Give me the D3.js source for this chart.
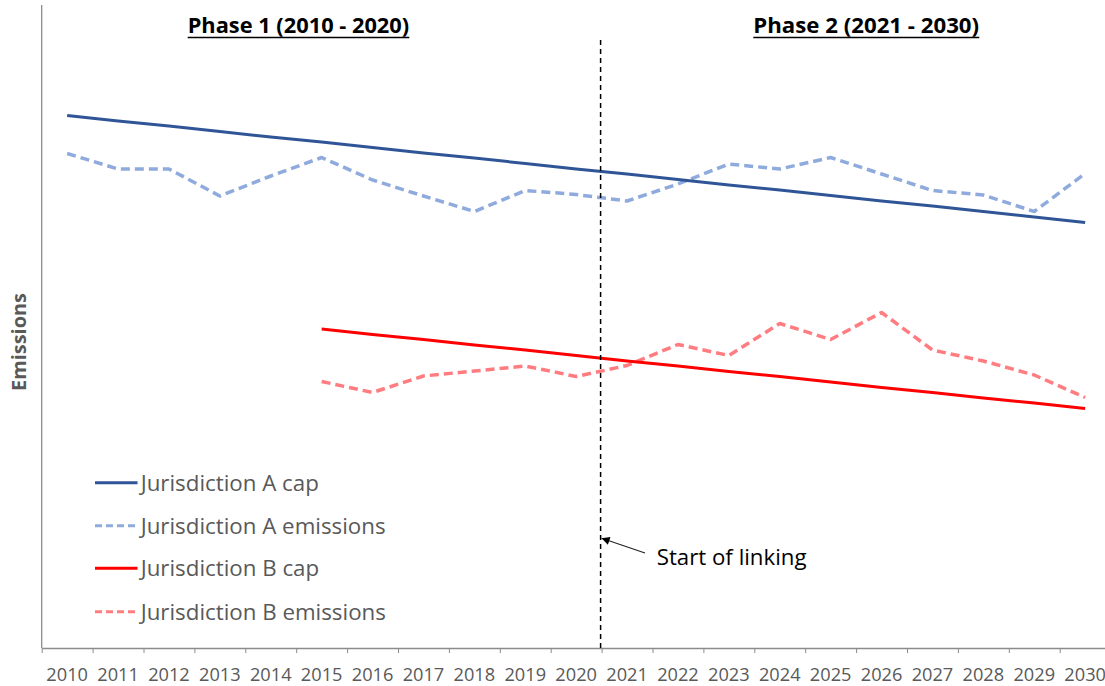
<!DOCTYPE html>
<html>
<head>
<meta charset="utf-8">
<script src="https://cdn.jsdelivr.net/npm/d3@7"></script>
<style>
  html, body { margin: 0; padding: 0; background: #fff; }
  svg { display: block; }
  text { font-family: "Open Sans", "Noto Sans", sans-serif; }
</style>
</head>
<body>
<svg id="chart" width="1105" height="686"></svg>
<script>
// ---------- data ----------
const years = ["2010","2011","2012","2013","2014","2015","2016","2017","2018","2019","2020",
               "2021","2022","2023","2024","2025","2026","2027","2028","2029","2030"];
const capAYears = years;
const capA = [106.5,105.4,104.4,103.3,102.2,101.2,100.1,99.0,98.0,96.9,95.8,
              94.8,93.7,92.6,91.6,90.5,89.4,88.4,87.3,86.2,85.1];
const emisAYears = years;
const emisA = [98.9,95.8,95.8,90.4,94.4,98.1,93.6,90.4,87.3,91.5,90.7,
               89.4,92.8,96.8,95.8,98.1,94.8,91.5,90.6,87.3,94.9];
const capBYears = years.slice(5);
const capB = [63.8,62.7,61.7,60.6,59.6,58.5,57.4,56.4,55.3,54.3,53.2,52.1,51.1,50.0,49.0,47.9];
const emisBYears = years.slice(5);
const emisB = [53.3,51.1,54.4,55.4,56.4,54.3,56.5,60.7,58.5,64.9,61.7,67.1,59.6,57.4,54.6,50.1];
const seriesNames = ["Jurisdiction A cap","Jurisdiction A emissions","Jurisdiction B cap","Jurisdiction B emissions"];
const phaseLabels = ["Phase 1 (2010 - 2020)","Phase 2 (2021 - 2030)"];
const linkYear = ["2020","2021"];
const linkLabel = "Start of linking";
const yTitle = "Emissions";

// ---------- layout ----------
const svg = d3.select("#chart");
const plotLeft = 41.7, plotRight = 1110.6, plotTop = 5, plotBottom = 648;
const x = d3.scaleBand().domain(years).range([plotLeft, plotRight]).padding(0);
const y = d3.scaleLinear().domain([0, 128]).range([plotBottom, plotBottom - 640]);
const cx = d => x(d) + x.bandwidth() / 2;
const boundary = d3.scaleLinear().domain([0, years.length]).range([plotLeft, plotRight]);

const textGray = "#595959";
const axisGray = "#8c8c8c";

function fitWidth(sel, target) {
  const w = sel.node().getComputedTextLength();
  const fs = parseFloat(sel.attr("font-size"));
  sel.attr("font-size", fs * target / w);
}

// axes
const gx = svg.append("g").attr("transform", `translate(0,${plotBottom})`);
gx.call(d3.axisBottom(boundary).tickValues(d3.range(0, years.length + 1)).tickFormat("").tickSize(5).tickSizeOuter(0));
gx.select(".domain").attr("stroke", axisGray).attr("stroke-width", 1.3);
gx.selectAll(".tick line").attr("stroke", axisGray).attr("stroke-width", 1);

const gl = svg.append("g").attr("transform", `translate(0,${plotBottom})`);
gl.call(d3.axisBottom(x).tickSize(0).tickPadding(0));
gl.select(".domain").remove();
gl.selectAll(".tick text")
  .attr("y", 33.3).attr("dy", 0)
  .attr("fill", textGray).attr("font-size", 18.2)
  .style("font-family", '"Open Sans", sans-serif');

const gy = svg.append("g").attr("transform", `translate(${plotLeft},0)`);
gy.append("line").attr("x1", 0).attr("x2", 0).attr("y1", plotTop).attr("y2", plotBottom)
  .attr("stroke", axisGray).attr("stroke-width", 1.3);

// y title
const yt = svg.append("text").text(yTitle)
  .attr("transform", "translate(25.5,342) rotate(-90)")
  .attr("text-anchor", "middle").attr("font-weight", "bold")
  .attr("fill", textGray).attr("font-size", 18);
fitWidth(yt, 98);

// lines
const line = d3.line().x(d => cx(d[0])).y(d => y(d[1]));
const styles = [
  {yrs: capAYears, vals: capA, color: "#2F5597", width: 3, dash: null},
  {yrs: emisAYears, vals: emisA, color: "#8FAADC", width: 3.5, dash: "9,5"},
  {yrs: capBYears, vals: capB, color: "#FF0000", width: 3, dash: null},
  {yrs: emisBYears, vals: emisB, color: "#FF7C80", width: 3.5, dash: "9,5"}
];
const order = [1, 3, 0, 2];
order.forEach(i => {
  const s = styles[i];
  svg.append("path")
    .datum(s.yrs.map((yr, j) => [yr, s.vals[j]]))
    .attr("d", line)
    .attr("fill", "none")
    .attr("stroke", s.color)
    .attr("stroke-width", s.width)
    .attr("stroke-linejoin", "round")
    .attr("stroke-dasharray", s.dash);
});

// linking divider
const divX = x(linkYear[1]) - 1;
svg.append("line").attr("x1", divX).attr("x2", divX).attr("y1", 40).attr("y2", plotBottom)
  .attr("stroke", "#000").attr("stroke-width", 1.5).attr("stroke-dasharray", "5,4");

// phase titles
const phaseX = [187.7, 753.3], phaseW = [221.6, 226];
phaseLabels.forEach((lab, i) => {
  const t = svg.append("text").text(lab).attr("x", phaseX[i]).attr("y", 33)
    .attr("font-weight", "bold").attr("fill", "#000").attr("font-size", 18);
  fitWidth(t, phaseW[i]);
  svg.append("line").attr("x1", phaseX[i]).attr("x2", phaseX[i] + phaseW[i])
    .attr("y1", 37.5).attr("y2", 37.5).attr("stroke", "#000").attr("stroke-width", 1.5);
});

// arrow annotation
const defs = svg.append("defs");
defs.append("marker").attr("id", "arr").attr("viewBox", "0 0 10 10")
  .attr("refX", 10).attr("refY", 5).attr("markerWidth", 10).attr("markerHeight", 8)
  .attr("markerUnits", "userSpaceOnUse").attr("orient", "auto")
  .append("path").attr("d", "M0,0 L10,5 L0,10 Z").attr("fill", "#000");
svg.append("line").attr("x1", 645).attr("y1", 553).attr("x2", divX + 1).attr("y2", 538.3)
  .attr("stroke", "#222").attr("stroke-width", 1.1).attr("marker-end", "url(#arr)");
const lt = svg.append("text").text(linkLabel).attr("x", 656.7).attr("y", 565)
  .attr("fill", "#000").attr("font-size", 20);
fitWidth(lt, 150);

// legend
const legY = [482.7, 525.7, 568.3, 611.7];
seriesNames.forEach((name, i) => {
  const s = styles[i];
  svg.append("line").attr("x1", 95).attr("x2", 137.5).attr("y1", legY[i]).attr("y2", legY[i])
    .attr("stroke", s.color).attr("stroke-width", 3)
    .attr("stroke-dasharray", s.dash ? "7,4" : null);
  const t = svg.append("text").text(name).attr("x", 140.7).attr("y", legY[i] + 8)
    .attr("fill", textGray).attr("font-size", 20);
  if (i === 1) fitWidth(t, 245);
});
// match legend font sizes to the fitted one
const legendFs = svg.selectAll("text").filter(function(){ return seriesNames.includes(d3.select(this).text()); });
const fsRef = legendFs.filter(function(){ return d3.select(this).text() === seriesNames[1]; }).attr("font-size");
legendFs.attr("font-size", fsRef);
</script>
</body>
</html>
